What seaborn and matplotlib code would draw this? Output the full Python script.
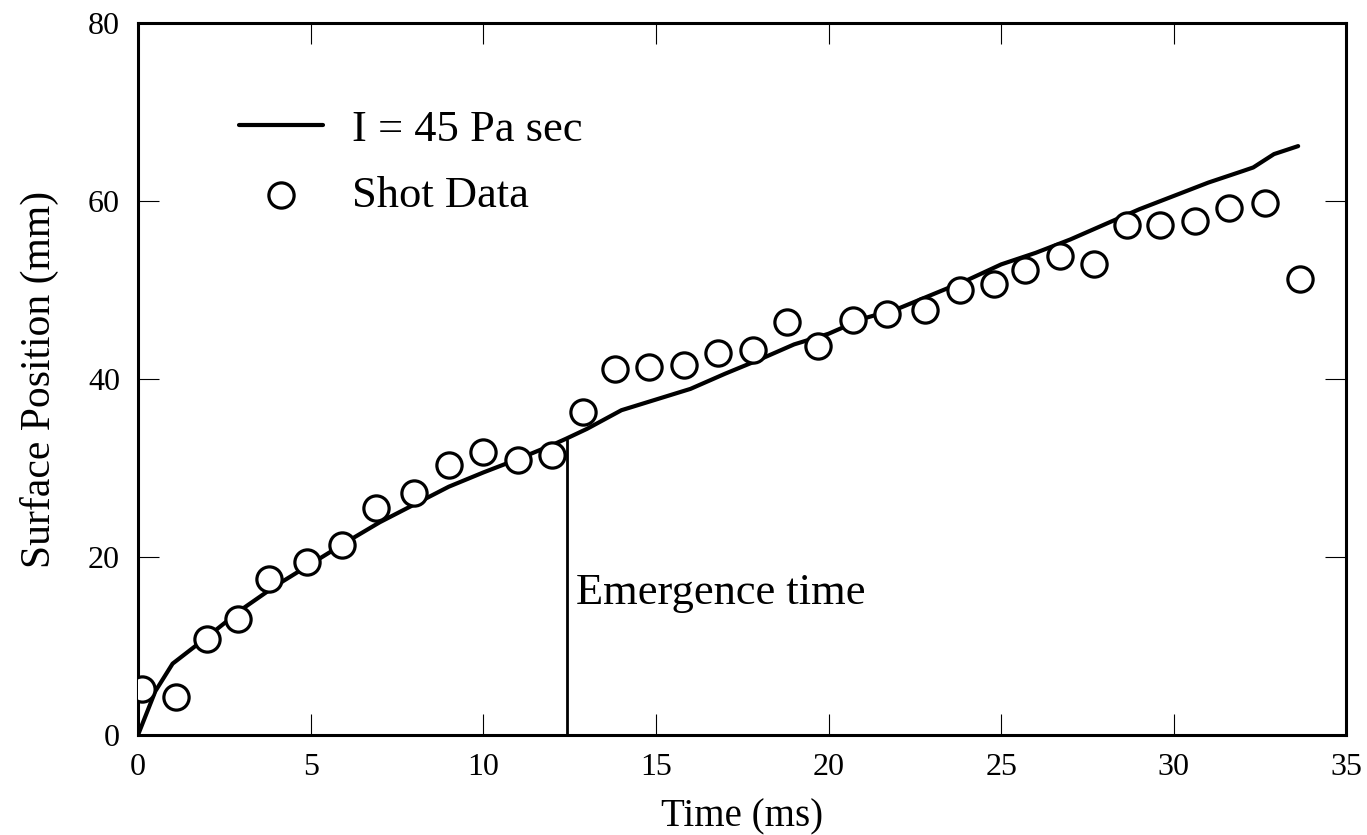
import numpy as np
import pandas as pd
import matplotlib
matplotlib.use('Agg')
import matplotlib.pyplot as plt
import seaborn as sns

# model curve, I = 45 Pa sec
model_t = [0, 0.5, 1, 2, 3, 4, 5, 6, 7, 8, 9, 10, 11, 12, 12.4, 13, 14, 15, 16,
           17, 18, 19, 20, 21, 22, 23, 24, 25, 26, 27, 28, 29, 30, 31, 32,
           32.3, 32.9, 33.6]
model_y = [0, 4.9, 8.0, 11.0, 14.1, 16.8, 19.2, 21.6, 23.9, 25.9, 27.9, 29.5,
           31.0, 32.6, 33.3, 34.4, 36.5, 37.7, 38.9, 40.6, 42.2, 43.9, 45.1,
           46.8, 47.9, 49.5, 51.1, 52.9, 54.2, 55.7, 57.4, 59.1, 60.6, 62.1,
           63.4, 63.8, 65.3, 66.2]

# shot data
shot_t = [0.1, 1.1, 2.0, 2.9, 3.8, 4.9, 5.9, 6.9, 8.0, 9.0, 10.0, 11.0, 12.0,
          12.9, 13.8, 14.8, 15.8, 16.8, 17.8, 18.8, 19.7, 20.7, 21.7, 22.8,
          23.8, 24.8, 25.7, 26.7, 27.7, 28.65, 29.6, 30.6, 31.6, 32.65, 33.65]
shot_y = [5.2, 4.3, 10.8, 13.0, 17.5, 19.4, 21.3, 25.5, 27.2, 30.3, 31.8, 30.9,
          31.5, 36.3, 41.1, 41.4, 41.6, 42.9, 43.3, 46.4, 43.7, 46.6, 47.3,
          47.8, 50.0, 50.7, 52.3, 53.8, 52.9, 57.3, 57.3, 57.8, 59.2, 59.8, 51.2]

emergence_t = 12.42
emergence_top = 33.3

model = pd.DataFrame({'t': model_t, 'y': model_y})
shots = pd.DataFrame({'t': shot_t, 'y': shot_y})

sns.set_style('ticks', {'axes.edgecolor': 'black', 'text.color': 'black',
                        'xtick.color': 'black', 'ytick.color': 'black',
                        'axes.labelcolor': 'black'})
plt.rcParams['font.family'] = ['Liberation Serif', 'DejaVu Serif']

fig, ax = plt.subplots(figsize=(13.67, 8.35), dpi=100)
fig.subplots_adjust(left=0.101, right=0.985, top=0.972, bottom=0.12)

sns.lineplot(data=model, x='t', y='y', color='black', linewidth=3,
             label='I = 45 Pa sec', ax=ax)
sns.scatterplot(data=shots, x='t', y='y', marker='o', s=330,
                facecolor='white', edgecolor='black', linewidth=2.3,
                label='Shot Data', ax=ax, zorder=3)

ax.vlines(emergence_t, 0, emergence_top, color='black', linewidth=2)
ax.text(12.68, 16.0, 'Emergence time', fontsize=32, va='center', ha='left')

ax.set_xlim(0, 35)
ax.set_ylim(0, 80)
ax.set_xticks(range(0, 36, 5))
ax.set_yticks(range(0, 81, 20))
ax.set_xlabel('Time (ms)', fontsize=28, labelpad=12)
ax.set_ylabel('Surface Position (mm)', fontsize=30, labelpad=21)
ax.tick_params(direction='in', length=15, width=0.8, labelsize=23,
               top=True, right=True, pad=13)
for s in ax.spines.values():
    s.set_linewidth(2.2)
    s.set_visible(True)

ax.legend(loc='upper left', bbox_to_anchor=(0.065, 0.91), frameon=False,
          fontsize=32, handlelength=1.9, handletextpad=0.65, labelspacing=0.58,
          borderpad=0)

fig.savefig('out.png', dpi=100)
